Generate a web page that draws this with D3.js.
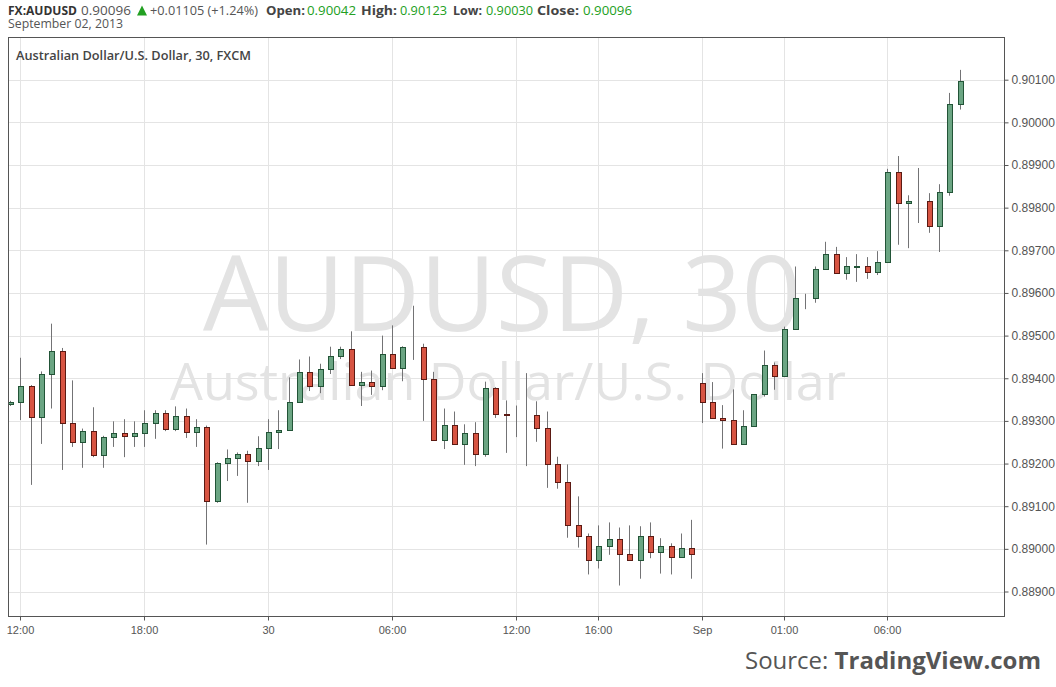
<!DOCTYPE html>
<html>
<head>
<meta charset="utf-8">
<script src="https://cdn.jsdelivr.net/npm/d3@7"></script>
<style>
html,body{margin:0;padding:0;background:#fff;}
svg{display:block;}
</style>
</head>
<body>
<svg id="chart" width="1056" height="687"></svg>
<script>
// ---- DATA (AUDUSD, 30 min bars, index 0 = 11:30) ----
const barIndex = d3.range(93);
const opens = [
0.89340,0.89345,0.89382,0.89310,0.89410,0.89464,0.89296,0.89251,0.89277,0.89221,
0.89263,0.89272,0.89265,0.89272,0.89296,0.89319,0.89282,0.89312,0.89275,0.89286,
0.89113,0.89201,0.89212,0.89223,0.89207,0.89237,0.89275,0.89279,0.89345,0.89415,
0.89382,0.89422,0.89453,0.89469,0.89385,0.89392,0.89382,0.89457,0.89424,0.89474,
0.89473,0.89399,0.89256,0.89291,0.89247,0.89272,0.89223,0.89378,0.89316,0.89314,
0.89315,0.89314,0.89284,0.89198,0.89156,0.89057,0.89029,0.88975,0.89006,0.89022,
0.88989,0.88973,0.89029,0.88992,0.89006,0.88982,0.89001,0.89390,0.89345,0.89307,
0.89302,0.89245,0.89289,0.89362,0.89430,0.89406,0.89516,0.89588,0.89589,0.89656,
0.89691,0.89647,0.89662,0.89663,0.89649,0.89673,0.89883,0.89810,0.89816,0.89815,
0.89756,0.89836,0.90042];
const highs = [
0.89347,0.89448,0.89384,0.89416,0.89528,0.89471,0.89395,0.89282,0.89332,0.89265,
0.89299,0.89304,0.89299,0.89325,0.89325,0.89325,0.89334,0.89329,0.89304,0.89289,
0.89203,0.89233,0.89226,0.89230,0.89264,0.89304,0.89325,0.89402,0.89444,0.89451,
0.89434,0.89474,0.89474,0.89510,0.89415,0.89418,0.89500,0.89524,0.89475,0.89570,
0.89481,0.89415,0.89329,0.89322,0.89292,0.89297,0.89392,0.89379,0.89348,0.89336,
0.89412,0.89346,0.89322,0.89216,0.89198,0.89123,0.89036,0.89055,0.89062,0.89050,
0.89055,0.89053,0.89062,0.89025,0.89013,0.89036,0.89068,0.89412,0.89391,0.89337,
0.89374,0.89325,0.89362,0.89465,0.89437,0.89521,0.89662,0.89598,0.89662,0.89720,
0.89708,0.89684,0.89691,0.89684,0.89698,0.89891,0.89921,0.89829,0.89893,0.89834,
0.89855,0.90069,0.90123];
const lows = [
0.89335,0.89302,0.89150,0.89246,0.89329,0.89185,0.89239,0.89190,0.89215,0.89190,
0.89239,0.89215,0.89239,0.89239,0.89258,0.89276,0.89276,0.89260,0.89239,0.89010,
0.89108,0.89159,0.89171,0.89108,0.89194,0.89185,0.89234,0.89278,0.89342,0.89370,
0.89365,0.89410,0.89445,0.89383,0.89335,0.89361,0.89372,0.89423,0.89393,0.89443,
0.89300,0.89253,0.89234,0.89244,0.89197,0.89194,0.89216,0.89307,0.89225,0.89262,
0.89194,0.89251,0.89143,0.89141,0.89026,0.89003,0.88940,0.88954,0.88986,0.88914,
0.88973,0.88930,0.88978,0.88942,0.88940,0.88980,0.88930,0.89295,0.89305,0.89235,
0.89245,0.89245,0.89287,0.89357,0.89373,0.89406,0.89516,0.89562,0.89577,0.89656,
0.89645,0.89631,0.89626,0.89633,0.89642,0.89673,0.89713,0.89705,0.89764,0.89741,
0.89696,0.89828,0.90030];
const closes = [
0.89345,0.89382,0.89310,0.89410,0.89464,0.89296,0.89251,0.89277,0.89221,0.89263,
0.89272,0.89265,0.89272,0.89296,0.89319,0.89282,0.89312,0.89275,0.89286,0.89113,
0.89201,0.89212,0.89223,0.89207,0.89237,0.89275,0.89279,0.89345,0.89415,0.89382,
0.89422,0.89453,0.89469,0.89385,0.89392,0.89382,0.89457,0.89424,0.89474,0.89473,
0.89399,0.89256,0.89291,0.89247,0.89272,0.89223,0.89378,0.89317,0.89315,0.89315,
0.89314,0.89284,0.89198,0.89156,0.89057,0.89029,0.88975,0.89006,0.89022,0.88989,
0.88973,0.89029,0.88992,0.89006,0.88982,0.89001,0.88989,0.89345,0.89307,0.89302,
0.89245,0.89289,0.89362,0.89430,0.89406,0.89516,0.89589,0.89589,0.89656,0.89691,
0.89647,0.89663,0.89663,0.89649,0.89673,0.89883,0.89810,0.89816,0.89815,0.89756,
0.89836,0.90042,0.90096];

const xTickIndex  = [1, 13, 25, 37, 49, 57, 67, 75, 85];
const xTickLabels = ["12:00","18:00","30","06:00","12:00","16:00","Sep","01:00","06:00"];
const yTickValues = [0.889,0.890,0.891,0.892,0.893,0.894,0.895,0.896,0.897,0.898,0.899,0.900,0.901];

// ---- LAYOUT ----
const frame = {left: 8, right: 1004, top: 37, bottom: 616};
const svg = d3.select("#chart");

const x = d3.scaleLinear().domain([1, 85]).range([20.4, 887.4]);
const y = d3.scaleLinear().domain([0.889, 0.901]).range([591.5, 79.7]);

const defs = svg.append("defs");
defs.append("clipPath").attr("id","plotClip").append("rect")
  .attr("x", frame.left).attr("y", frame.top)
  .attr("width", frame.right - frame.left).attr("height", frame.bottom - frame.top);

// gridlines
const grid = svg.append("g").attr("shape-rendering","crispEdges");
grid.selectAll("line.h").data(yTickValues).join("line")
  .attr("x1", frame.left).attr("x2", frame.right)
  .attr("y1", d => Math.round(y(d)) + 0.5).attr("y2", d => Math.round(y(d)) + 0.5)
  .attr("stroke", "#e4e4e4");
grid.selectAll("line.v").data(xTickIndex).join("line")
  .attr("y1", frame.top).attr("y2", frame.bottom)
  .attr("x1", d => Math.round(x(d)) + 0.5).attr("x2", d => Math.round(x(d)) + 0.5)
  .attr("stroke", "#e4e4e4");

// watermark
const cx = (frame.left + frame.right) / 2;
svg.append("text").attr("x", cx - 4).attr("y", 331)
  .attr("text-anchor","middle")
  .style("font-family","'Open Sans', sans-serif").style("font-size","104px")
  .attr("fill","#e3e3e3").text("AUDUSD, 30");
svg.append("text").attr("x", cx + 2).attr("y", 400)
  .attr("text-anchor","middle")
  .style("font-family","'Open Sans', sans-serif").style("font-size","52px")
  .attr("fill","#e3e3e3").text("Australian Dollar/U.S. Dollar");

// candles
const bars = barIndex.map(i => ({i, o: opens[i], h: highs[i], l: lows[i], c: closes[i]}));
const cg = svg.append("g").attr("clip-path","url(#plotClip)");
const px = i => Math.round(x(i));

cg.selectAll("line.wick").data(bars).join("line")
  .attr("x1", d => px(d.i) + 0.5).attr("x2", d => px(d.i) + 0.5)
  .attr("y1", d => y(d.h)).attr("y2", d => y(d.l))
  .attr("stroke", "#737375").attr("stroke-width", 1);

cg.selectAll("rect.body").data(bars).join("rect")
  .attr("x", d => px(d.i) - 2)
  .attr("width", 5)
  .attr("y", d => Math.round(y(Math.max(d.o, d.c))) + 0.5)
  .attr("height", d => Math.max(0, Math.round(y(Math.min(d.o, d.c))) - Math.round(y(Math.max(d.o, d.c)))))
  .attr("fill", d => d.c >= d.o ? "#6ba583" : "#d75442")
  .attr("stroke", d => d.c >= d.o ? "#225437" : "#5b1a13")
  .attr("stroke-width", 1)
  .attr("shape-rendering","crispEdges");

// frame
svg.append("rect")
  .attr("x", frame.left + 0.5).attr("y", frame.top + 0.5)
  .attr("width", frame.right - frame.left).attr("height", frame.bottom - frame.top)
  .attr("fill","none").attr("stroke","#555").attr("stroke-width",1)
  .attr("shape-rendering","crispEdges");

// axes
const yAxis = d3.axisRight(y).tickValues(yTickValues).tickFormat(d3.format(".5f"))
  .tickSize(4).tickPadding(3);
const ya = svg.append("g").attr("transform", `translate(${frame.right + 0.5},0)`).call(yAxis);
ya.select(".domain").remove();
ya.selectAll(".tick line").attr("stroke","#555");
ya.selectAll(".tick text").attr("fill","#555")
  .style("font-family","'Liberation Sans', Arial, sans-serif").style("font-size","12px");

const xAxis = d3.axisBottom(x).tickValues(xTickIndex)
  .tickFormat((d, k) => xTickLabels[k]).tickSize(4).tickPadding(6);
const xa = svg.append("g").attr("transform", `translate(0,${frame.bottom + 0.5})`).call(xAxis);
xa.select(".domain").remove();
xa.selectAll(".tick").attr("transform", d => `translate(${Math.round(x(d)) + 0.5},0)`);
xa.selectAll(".tick line").attr("stroke","#555");
xa.selectAll(".tick text").attr("fill","#555")
  .style("font-family","'Liberation Sans', Arial, sans-serif").style("font-size","11px");

// header
const hdrFont = "'Open Sans', sans-serif";
const green = "#22a022";
const header = [
  {t:"FX:AUDUSD", x:8, len:69, w:"bold", c:"#333"},
  {t:"0.90096", x:81, len:50, w:"normal", c:"#555"},
  {t:"+0.01105 (+1.24%)", x:150, len:108, w:"normal", c:"#555"},
  {t:"Open:", x:266, len:39, w:"bold", c:"#444"},
  {t:"0.90042", x:307, len:49, w:"normal", c:green},
  {t:"High:", x:361, len:36, w:"bold", c:"#444"},
  {t:"0.90123", x:400, len:47, w:"normal", c:green},
  {t:"Low:", x:453, len:29, w:"bold", c:"#444"},
  {t:"0.90030", x:486, len:47, w:"normal", c:green},
  {t:"Close:", x:537, len:42, w:"bold", c:"#444"},
  {t:"0.90096", x:583, len:49, w:"normal", c:green}
];
svg.append("g").selectAll("text").data(header).join("text")
  .attr("x", d => d.x).attr("y", 15)
  .attr("textLength", d => d.len).attr("lengthAdjust","spacingAndGlyphs")
  .style("font-family", hdrFont).style("font-size","13px")
  .style("font-weight", d => d.w).attr("fill", d => d.c)
  .text(d => d.t);
svg.append("path").attr("d","M137,15.5 L142,5.5 L147,15.5 Z").attr("fill", green);
svg.append("text").attr("x",8).attr("y",28)
  .attr("textLength",115).attr("lengthAdjust","spacingAndGlyphs")
  .style("font-family", hdrFont).style("font-size","13px").attr("fill","#555")
  .text("September 02, 2013");

// chart title
svg.append("text").attr("x",16).attr("y",60)
  .attr("textLength",235).attr("lengthAdjust","spacingAndGlyphs")
  .style("font-family", hdrFont).style("font-size","12.5px").style("font-weight","600")
  .attr("fill","#444").text("Australian Dollar/U.S. Dollar, 30, FXCM");

// source
const src = svg.append("text").attr("x",1041).attr("y",669).attr("text-anchor","end")
  .style("font-family", hdrFont).style("font-size","24px").attr("fill","#555");
src.append("tspan").text("Source: ");
src.append("tspan").style("font-weight","bold").text("TradingView.com");
</script>
</body>
</html>
